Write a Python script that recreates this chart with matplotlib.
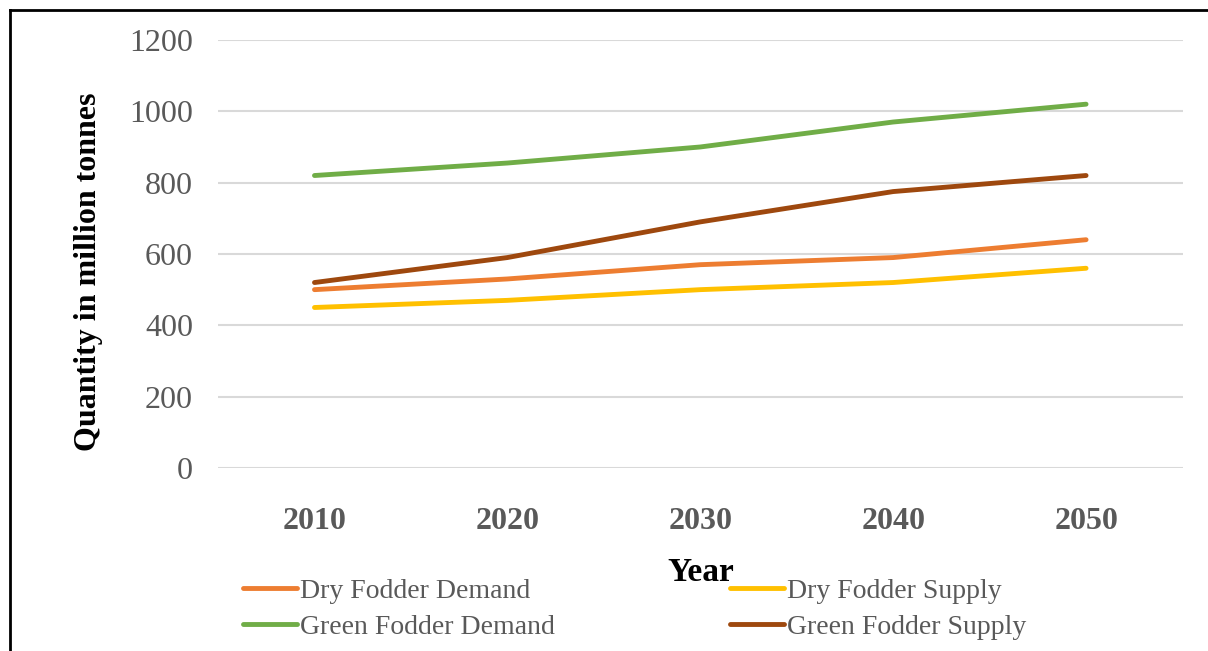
import matplotlib
matplotlib.use('Agg')
import matplotlib.pyplot as plt
from matplotlib.lines import Line2D

# data
years = ['2010', '2020', '2030', '2040', '2050']
dry_demand = [500, 530, 570, 590, 640]
dry_supply = [450, 470, 500, 520, 560]
green_demand = [820, 855, 900, 970, 1020]
green_supply = [520, 590, 690, 775, 820]

plt.rcParams['font.family'] = ['Liberation Serif', 'DejaVu Serif']

fig = plt.figure(figsize=(12.08, 6.51), dpi=100)
ax = fig.add_axes([0.1805, 0.2811, 0.7984, 0.6575])

x = range(len(years))
series = [
    ('Dry Fodder Demand', dry_demand, '#ED7D31'),
    ('Green Fodder Demand', green_demand, '#70AD47'),
    ('Dry Fodder Supply', dry_supply, '#FFC000'),
    ('Green Fodder Supply', green_supply, '#9E480E'),
]
handles = []
for name, vals, col in series:
    ln, = ax.plot(x, vals, color=col, lw=3.5, solid_capstyle='round', label=name, zorder=3)
    handles.append(ln)

ax.set_xlim(-0.5, 4.5)
ax.set_ylim(0, 1200)
ax.set_yticks(range(0, 1201, 200))
ax.set_xticks(list(x))
ax.set_xticklabels(years, fontsize=23, fontweight='bold', color='#595959')
ax.tick_params(axis='y', labelsize=23, labelcolor='#595959', length=0, pad=18)
ax.tick_params(axis='x', length=0, pad=28)
ax.grid(axis='y', color='#D9D9D9', lw=1.5)
ax.set_axisbelow(True)
for s in ax.spines.values():
    s.set_visible(False)

ax.set_ylabel('Quantity in million tonnes', fontsize=23, fontweight='bold')
ax.yaxis.set_label_coords(-0.119, 0.458)
fig.text(0.580, 0.121, 'Year', fontsize=24, fontweight='bold', ha='center', va='center')

leg = fig.legend(handles=handles, loc='center left', bbox_to_anchor=(0.1803, 0.064),
                 ncol=2, frameon=False, fontsize=20, handlelength=1.95,
                 handletextpad=0.1, columnspacing=6.3, labelspacing=0.37)
for t in leg.get_texts():
    t.set_color('#595959')

# figure border (left and top edges)
fig.add_artist(Line2D([0.0083, 0.0083], [0, 0.985], transform=fig.transFigure, color='black', lw=2))
fig.add_artist(Line2D([0.0083, 1.0], [0.985, 0.985], transform=fig.transFigure, color='black', lw=2))

fig.savefig('out.png', dpi=100, facecolor='white')
